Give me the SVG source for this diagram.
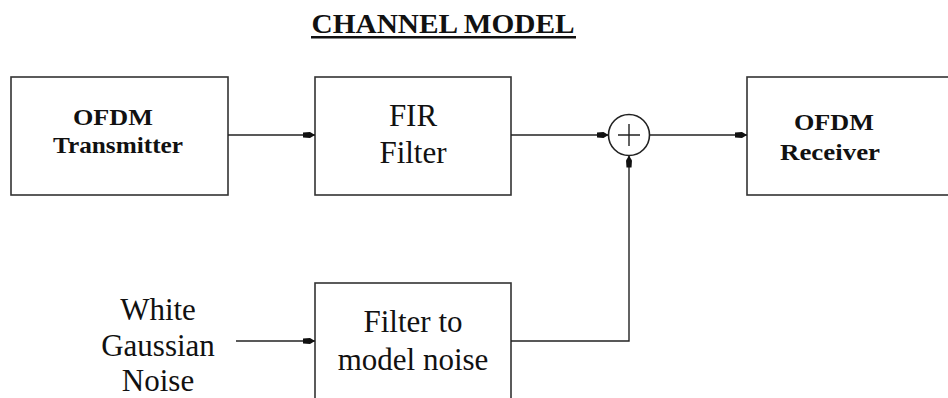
<svg xmlns="http://www.w3.org/2000/svg" width="948" height="398" viewBox="0 0 948 398">
<style>
.box{fill:none;stroke:#333;stroke-width:1.6}
.ln{fill:none;stroke:#222;stroke-width:1.4}
.t{font-family:"Liberation Serif","Times New Roman",serif;fill:#111;text-anchor:middle}
.r{font-size:31px}
.b{font-size:24px;font-weight:bold}
</style>
<defs>
<marker id="ah" viewBox="0 0 12 7" refX="12" refY="3.5" markerWidth="12" markerHeight="7" markerUnits="userSpaceOnUse" orient="auto">
<path d="M0,1 L7,0.5 L12,3.5 L7,6.5 L0,6 z" fill="#111"/>
</marker>
</defs>
<rect width="948" height="398" fill="#fff"/>
<g id="title">
<text class="t" x="443" y="33" font-size="28" font-weight="bold" textLength="263" lengthAdjust="spacingAndGlyphs">CHANNEL MODEL</text>
<rect x="311" y="36" width="265" height="2.5" fill="#111"/>
</g>
<g id="transmitter">
<rect class="box" x="11" y="77" width="217" height="118"/>
<text class="t b" x="113" y="125" textLength="80" lengthAdjust="spacingAndGlyphs">OFDM</text>
<text class="t b" x="118" y="153" textLength="130" lengthAdjust="spacingAndGlyphs">Transmitter</text>
</g>
<g id="fir">
<rect class="box" x="315" y="77" width="196" height="118"/>
<text class="t r" x="413" y="126">FIR</text>
<text class="t r" x="413" y="163">Filter</text>
</g>
<g id="sum">
<circle cx="629" cy="135" r="20.5" fill="#fff" stroke="#222" stroke-width="1.6"/>
<path class="ln" d="M618,135 H640 M629,124 V146"/>
</g>
<g id="receiver">
<rect class="box" x="747" y="77" width="220" height="118"/>
<text class="t b" x="834" y="130" textLength="80" lengthAdjust="spacingAndGlyphs">OFDM</text>
<text class="t b" x="830" y="160" textLength="100" lengthAdjust="spacingAndGlyphs">Receiver</text>
</g>
<g id="noise-source">
<text class="t r" x="158" y="320">White</text>
<text class="t r" x="158" y="356">Gaussian</text>
<text class="t r" x="158" y="391">Noise</text>
</g>
<g id="noise-filter">
<rect class="box" x="315" y="283" width="196" height="140"/>
<text class="t r" x="413" y="332">Filter to</text>
<text class="t r" x="413" y="370">model noise</text>
</g>
<g id="connectors">
<path class="ln" d="M228,135 H315" marker-end="url(#ah)"/>
<path class="ln" d="M511,135 H608.5" marker-end="url(#ah)"/>
<path class="ln" d="M649.5,135 H747" marker-end="url(#ah)"/>
<path class="ln" d="M236,341 H315" marker-end="url(#ah)"/>
<path class="ln" d="M511,341 H629 V155.5" marker-end="url(#ah)"/>
</g>
</svg>
